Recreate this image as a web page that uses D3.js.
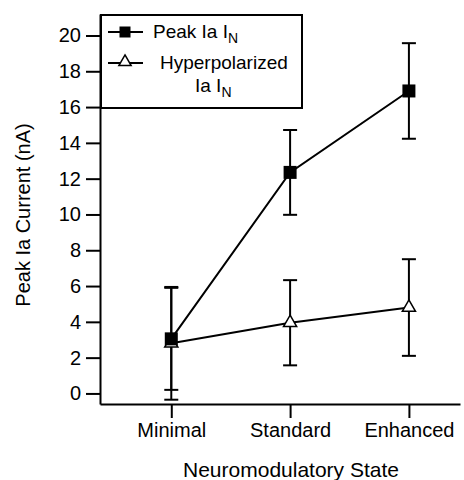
<!DOCTYPE html>
<html>
<head>
<meta charset="utf-8">
<script src="https://cdn.jsdelivr.net/npm/d3@7"></script>
<style>
  body { margin: 0; background: #fff; }
  svg { display: block; font-family: "Liberation Sans", Arial, sans-serif; }
</style>
</head>
<body>
<div class="container"></div>
<script>
const categories = ["Minimal", "Standard", "Enhanced"];
const peakValues = [3.05, 12.35, 16.9];
const peakErrors = [2.85, 2.37, 2.67];
const hyperValues = [2.8, 3.95, 4.8];
const hyperErrors = [3.15, 2.38, 2.7];
const yTicks = [0, 2, 4, 6, 8, 10, 12, 14, 16, 18, 20];

document.addEventListener("DOMContentLoaded", function () {
  const width = 464, height = 480;

  const svg = d3.select(".container")
      .append("svg")
      .attr("width", width)
      .attr("height", height);

  // index based x scale, categories sit at 0, 1, 2
  const xScale = d3.scaleLinear()
      .domain([-0.6, 2.43])
      .range([100, 460]);

  const yScale = d3.scaleLinear()
      .domain([-0.59, 21.2])
      .range([404, 14]);

  const xAxis = d3.axisBottom(xScale)
      .tickValues([0, 1, 2])
      .tickFormat(i => categories[i])
      .tickSize(14)
      .tickPadding(5)
      .tickSizeOuter(0);

  const yAxis = d3.axisLeft(yScale)
      .tickValues(yTicks)
      .tickSize(14)
      .tickPadding(5)
      .tickSizeOuter(0);

  const gx = svg.append("g")
      .attr("transform", "translate(0, 404)")
      .call(xAxis);

  const gy = svg.append("g")
      .attr("transform", "translate(100, 0)")
      .call(yAxis);

  [gx, gy].forEach(g => {
    g.select(".domain").attr("stroke", "#000").attr("stroke-width", 2);
    g.selectAll(".tick line").attr("stroke", "#000").attr("stroke-width", 2);
    g.selectAll(".tick text")
      .attr("fill", "#000")
      .style("font-family", "'Liberation Sans', Arial, sans-serif")
      .style("font-size", "20px");
  });

  // axis titles
  svg.append("text")
      .attr("x", 291)
      .attr("y", 477)
      .attr("text-anchor", "middle")
      .style("font-size", "21px")
      .text("Neuromodulatory State");

  svg.append("text")
      .attr("transform", "translate(30, 215) rotate(-90)")
      .attr("text-anchor", "middle")
      .style("font-size", "20px")
      .text("Peak Ia Current (nA)");

  const series = [
    { name: "peak", values: peakValues, errors: peakErrors },
    { name: "hyper", values: hyperValues, errors: hyperErrors }
  ];

  const line = d3.line()
      .x((d, i) => xScale(i))
      .y(d => yScale(d));

  // error bars
  series.forEach(s => {
    const g = svg.append("g").attr("class", "err-" + s.name);
    s.values.forEach((v, i) => {
      const x = xScale(i);
      const top = yScale(v + s.errors[i]);
      const bot = yScale(v - s.errors[i]);
      g.append("line")
        .attr("x1", x).attr("x2", x).attr("y1", top).attr("y2", bot)
        .attr("stroke", "#000").attr("stroke-width", 2);
      [top, bot].forEach(y => {
        g.append("line")
          .attr("x1", x - 7).attr("x2", x + 7).attr("y1", y).attr("y2", y)
          .attr("stroke", "#000").attr("stroke-width", 2);
      });
    });
  });

  // connecting lines
  series.forEach(s => {
    svg.append("path")
      .datum(s.values)
      .attr("fill", "none")
      .attr("stroke", "#000")
      .attr("stroke-width", 2)
      .attr("d", line);
  });

  const triangle = d3.symbol().type(d3.symbolTriangle).size(75);

  // hyperpolarized markers (open triangles)
  svg.selectAll(".tri")
      .data(hyperValues)
      .enter()
      .append("path")
      .attr("class", "tri")
      .attr("d", triangle)
      .attr("transform", (d, i) => `translate(${xScale(i)}, ${yScale(d)})`)
      .attr("fill", "#fff")
      .attr("stroke", "#000")
      .attr("stroke-width", 1.5);

  // peak markers (filled squares)
  svg.selectAll(".sq")
      .data(peakValues)
      .enter()
      .append("rect")
      .attr("class", "sq")
      .attr("x", (d, i) => xScale(i) - 6.5)
      .attr("y", d => yScale(d) - 6.5)
      .attr("width", 13)
      .attr("height", 13)
      .attr("fill", "#000");

  // legend
  const legend = svg.append("g");
  legend.append("rect")
      .attr("x", 101)
      .attr("y", 15)
      .attr("width", 201)
      .attr("height", 93)
      .attr("fill", "#fff")
      .attr("stroke", "#000")
      .attr("stroke-width", 2);

  legend.append("line")
      .attr("x1", 108).attr("x2", 143).attr("y1", 32).attr("y2", 32)
      .attr("stroke", "#000").attr("stroke-width", 2);
  legend.append("rect")
      .attr("x", 119.5).attr("y", 26.5).attr("width", 11).attr("height", 11)
      .attr("fill", "#000");

  legend.append("line")
      .attr("x1", 108).attr("x2", 143).attr("y1", 63).attr("y2", 63)
      .attr("stroke", "#000").attr("stroke-width", 2);
  legend.append("path")
      .attr("d", d3.symbol().type(d3.symbolTriangle).size(65))
      .attr("transform", "translate(125, 62)")
      .attr("fill", "#fff")
      .attr("stroke", "#000")
      .attr("stroke-width", 1.5);

  const t1 = legend.append("text")
      .attr("x", 153).attr("y", 38)
      .style("font-size", "19px");
  t1.append("tspan").text("Peak Ia I");
  t1.append("tspan").attr("dy", 5).style("font-size", "14px").text("N");

  legend.append("text")
      .attr("x", 160).attr("y", 69)
      .style("font-size", "19px")
      .text("Hyperpolarized");

  const t2 = legend.append("text")
      .attr("x", 195).attr("y", 92)
      .style("font-size", "19px");
  t2.append("tspan").text("Ia I");
  t2.append("tspan").attr("dy", 5).style("font-size", "14px").text("N");
});
</script>
</body>
</html>
